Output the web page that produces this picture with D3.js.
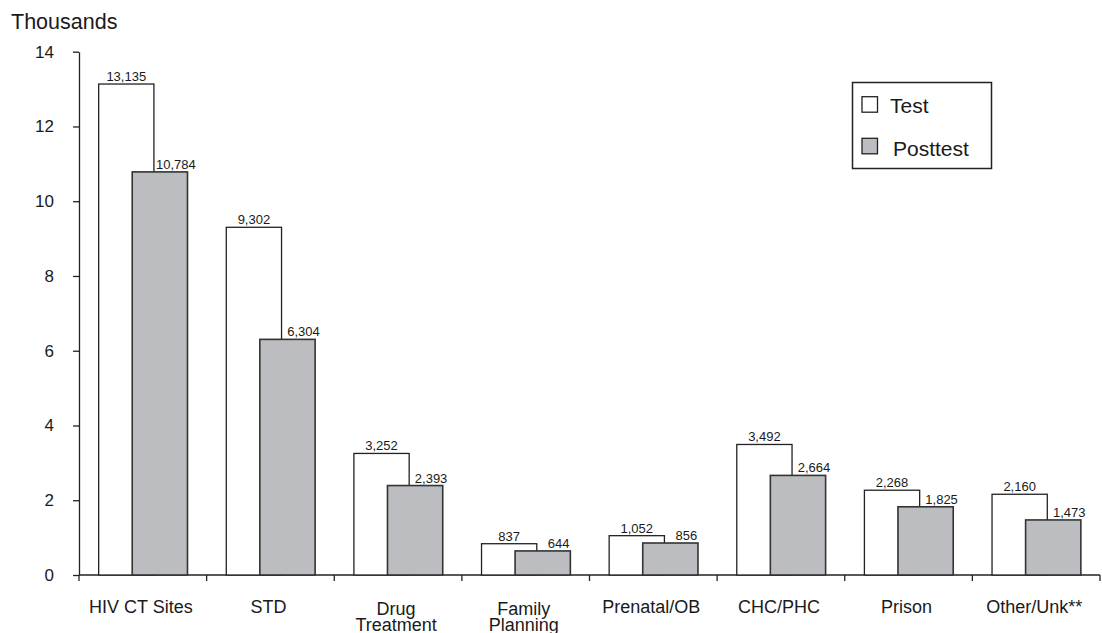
<!DOCTYPE html>
<html><head><meta charset="utf-8">
<script src="https://cdn.jsdelivr.net/npm/d3@7"></script>
<style>
body{margin:0;background:#fff;}
text{font-family:"Liberation Sans",Arial,sans-serif;fill:#1a1a1a;}
</style></head>
<body><svg id="chart" width="1102" height="633"></svg>
<script>
const categories = [["HIV CT Sites"],["STD"],["Drug","Treatment"],["Family","Planning"],["Prenatal/OB"],["CHC/PHC"],["Prison"],["Other/Unk**"]];
const testValues = [13135, 9302, 3252, 837, 1052, 3492, 2268, 2160];
const posttestValues = [10784, 6304, 2393, 644, 856, 2664, 1825, 1473];
const yTicks = [0, 2, 4, 6, 8, 10, 12, 14];
const seriesNames = ["Test", "Posttest"];

const svg = d3.select("#chart");
const ink = "#222";
const grayFill = "#bcbdc0";
const keys = categories.map(c => c.join(" "));

const x = d3.scaleBand().domain(keys).range([79, 1100]).padding(0);
const y = d3.scaleLinear().domain([0, 14]).range([575, 51.7]);
const bw = x.bandwidth();
const barW = bw * 0.433;
const testOff = bw * 0.154;
const postOff = bw * 0.417;

// Y axis
const yAxis = d3.axisLeft(y).tickValues(yTicks).tickFormat(d3.format("d")).tickSize(6).tickSizeOuter(0).tickPadding(19);
const gy = svg.append("g").attr("transform", "translate(79,0)").call(yAxis);
gy.selectAll("path,line").attr("stroke", ink).attr("stroke-width", 1.3);
gy.selectAll("text").style("font-size", "17px").attr("fill", "#1a1a1a").style("font-family", "Liberation Sans, Arial, sans-serif");

// X axis
svg.append("line").attr("x1", 79).attr("x2", 1100).attr("y1", y(0)).attr("y2", y(0)).attr("stroke", ink).attr("stroke-width", 1.3);
const xTickPos = keys.map(k => x(k)).concat([x.range()[1]]);
svg.selectAll(".xt").data(xTickPos).join("line").attr("class", "xt")
  .attr("x1", d => d).attr("x2", d => d).attr("y1", y(0)).attr("y2", y(0) + 6)
  .attr("stroke", ink).attr("stroke-width", 1.3);

// category labels
categories.forEach((lines, i) => {
  const t = svg.append("text").attr("x", x(keys[i]) + bw / 2 - 2).attr("y", lines.length > 1 ? 615 : 613)
    .attr("text-anchor", "middle").style("font-size", "18px");
  lines.forEach((ln, j) => {
    t.append("tspan").attr("x", x(keys[i]) + bw / 2 - 2).attr("dy", j === 0 ? 0 : 15.5).text(ln);
  });
});

const fmt = d3.format(",");

// Test bars
svg.selectAll(".tb").data(testValues).join("rect").attr("class", "tb")
  .attr("x", (d, i) => x(keys[i]) + testOff).attr("width", barW)
  .attr("y", d => y(d / 1000)).attr("height", d => y(0) - y(d / 1000))
  .attr("fill", "#fff").attr("stroke", ink).attr("stroke-width", 1.3);
// Posttest bars
svg.selectAll(".pb").data(posttestValues).join("rect").attr("class", "pb")
  .attr("x", (d, i) => x(keys[i]) + postOff).attr("width", barW)
  .attr("y", d => y(d / 1000)).attr("height", d => y(0) - y(d / 1000))
  .attr("fill", grayFill).attr("stroke", "#333").attr("stroke-width", 1.6);

// value labels
svg.selectAll(".tl").data(testValues).join("text").attr("class", "tl")
  .attr("x", (d, i) => x(keys[i]) + testOff + barW / 2).attr("y", d => y(d / 1000) - 3)
  .attr("text-anchor", "middle").style("font-size", "13px").text(d => fmt(d));
svg.selectAll(".pl").data(posttestValues).join("text").attr("class", "pl")
  .attr("x", (d, i) => x(keys[i]) + postOff + barW / 2 + 16).attr("y", d => y(d / 1000) - 3)
  .attr("text-anchor", "middle").style("font-size", "13px").text(d => fmt(d));

// Units title
svg.append("text").attr("x", 11).attr("y", 29).style("font-size", "21.5px").text("Thousands");

// Legend
const lg = svg.append("g");
lg.append("rect").attr("x", 852.5).attr("y", 82.5).attr("width", 139).attr("height", 86)
  .attr("fill", "#fff").attr("stroke", ink).attr("stroke-width", 1.5);
const legFills = ["#fff", grayFill];
const legY = [96.7, 138.3];
const legTextY = [112.5, 156];
const legTextX = [890, 893];
seriesNames.forEach((n, i) => {
  lg.append("rect").attr("x", 862).attr("y", legY[i]).attr("width", 15.5).attr("height", 15.5)
    .attr("fill", legFills[i]).attr("stroke", ink).attr("stroke-width", 1.3);
  lg.append("text").attr("x", legTextX[i]).attr("y", legTextY[i]).style("font-size", "21px").text(n);
});
</script></body></html>
